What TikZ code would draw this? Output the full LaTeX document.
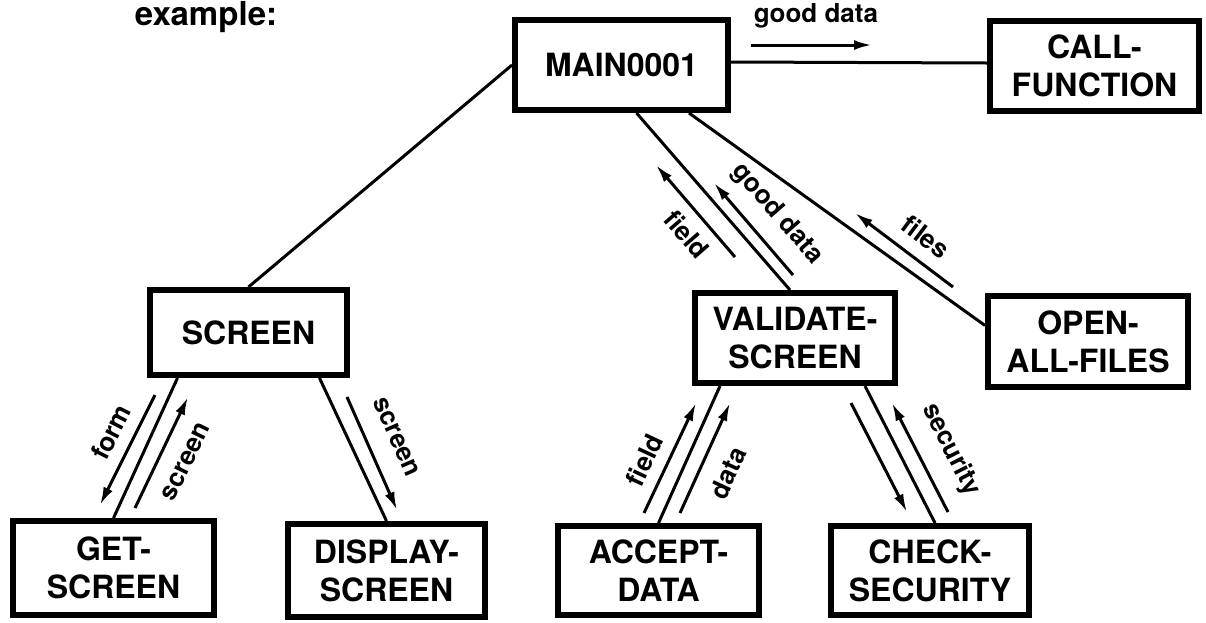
\documentclass[tikz,border=0pt]{standalone}
\usepackage{fontspec}
\setmainfont{TeX Gyre Heros}
\usetikzlibrary{arrows.meta}

\begin{document}
\begin{tikzpicture}[x=1pt, y=-1pt,
  box/.style={draw, line width=6pt, align=center, inner sep=0pt,
              font=\fontsize{32}{38}\selectfont\bfseries},
  link/.style={line width=3pt},
  flow/.style={line width=3pt, -{Latex[length=18pt,width=10pt]}},
  tag/.style={inner sep=0pt, font=\fontsize{26}{30}\selectfont\bfseries},
  title/.style={inner sep=0pt, font=\fontsize{33}{40}\selectfont\bfseries}]

\useasboundingbox (0,0) rectangle (1206,622);

% heading
\node[title, anchor=base] (heading) at (206,25) {example:};

% module boxes
\node[box, minimum width=213, minimum height=90] (main)     at (621.5,65)   {MAIN0001};
\node[box, minimum width=209, minimum height=90] (call)     at (1094.5,66)  {CALL-\\FUNCTION};
\node[box, minimum width=197, minimum height=85] (screen)   at (248.5,332.5){SCREEN};
\node[box, minimum width=200, minimum height=90] (validate) at (795,338)    {VALIDATE-\\SCREEN};
\node[box, minimum width=200, minimum height=91] (open)     at (1088,341.5) {OPEN-\\ALL-FILES};
\node[box, minimum width=201, minimum height=94] (get)      at (113.5,568)  {GET-\\SCREEN};
\node[box, minimum width=197, minimum height=93] (display)  at (386.5,570.5){DISPLAY-\\SCREEN};
\node[box, minimum width=201, minimum height=89] (accept)   at (658.5,570.5){ACCEPT-\\DATA};
\node[box, minimum width=198, minimum height=89] (check)    at (930,570.5)  {CHECK-\\SECURITY};

% calls between modules
\draw[link] (main.west) -- (screen.north);
\draw[link] ([yshift=3pt]main.east) -- ([yshift=3pt]call.west);
\draw[link] ([xshift=15pt]main.south) -- ([xshift=-5pt]validate.north);
\draw[link] ([xshift=-42pt]main.south east) -- ([yshift=16pt]open.west);
\draw[link] ([xshift=-71pt]screen.south) -- (get.north);
\draw[link] ([xshift=71pt]screen.south) -- (display.north);
\draw[link] ([xshift=-75pt]validate.south) -- (accept.north);
\draw[link] ([xshift=70pt]validate.south) -- ([xshift=5pt]check.north);

% data passed along the calls
\draw[flow] (751,45) -- (872,45);
\node[tag] (t1) at (816,16) {good data};

\draw[flow] (735,257) -- (656,165);
\node[tag, rotate=-49] (t2) at (687,234) {field};
\draw[flow] (793,275) -- (714,183);
\node[tag, rotate=-49] (t3) at (777,214) {good data};

\draw[flow] (953,287) -- (855,213);
\node[tag, rotate=-37] (t4) at (926,237) {files};

\draw[flow] (155,395) -- (100,505);
\node[tag, rotate=63] (t5) at (111,432) {form};
\draw[flow] (135,508) -- (188,397);
\node[tag, rotate=64] (t6) at (186,462) {screen};

\draw[flow] (347,397) -- (397,510);
\node[tag, rotate=-66] (t7) at (396,437) {screen};

\draw[flow] (644,513) -- (696,403);
\node[tag, rotate=65] (t8) at (644,460) {field};
\draw[flow] (680,513) -- (730,403);
\node[tag, rotate=65] (t9) at (728,473) {data};

\draw[flow] (851,403) -- (907,512);
\draw[flow] (948,512) -- (892,403);
\node[tag, rotate=-63] (t10) at (951,450) {security};

\end{tikzpicture}
\end{document}
